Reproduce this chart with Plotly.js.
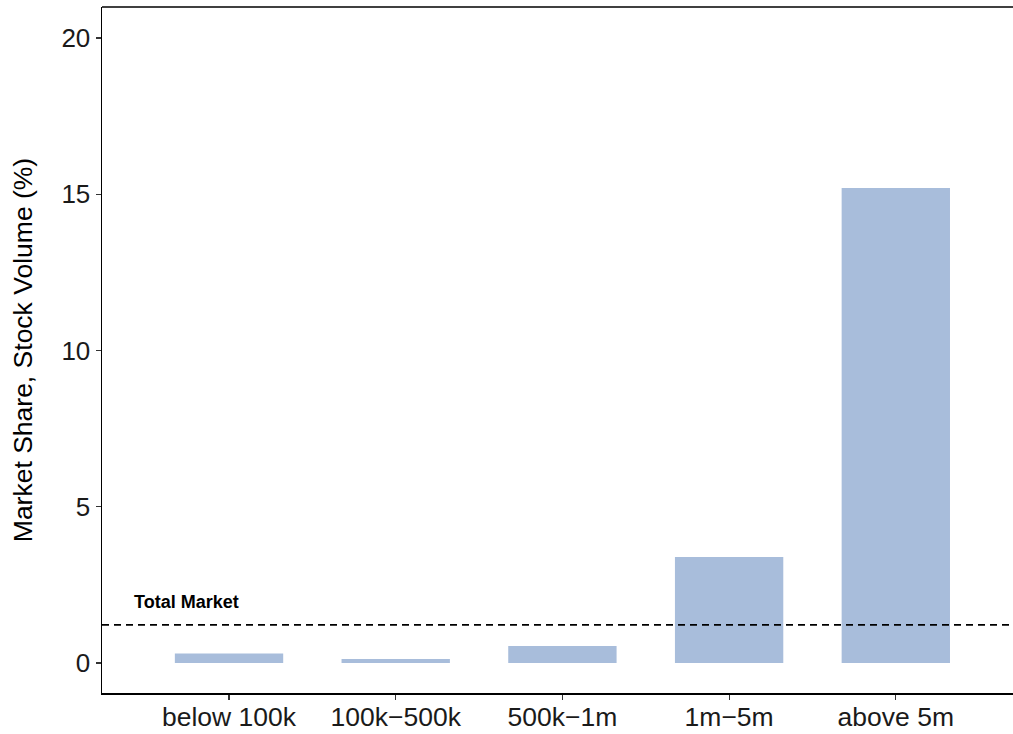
<!DOCTYPE html>
<html>
<head>
<meta charset="utf-8">
<script src="https://cdn.plot.ly/plotly-3.0.1.min.js"></script>
<style>html,body{margin:0;padding:0;background:#fff;}#chart{width:1013px;height:734px;}</style>
</head>
<body>
<div id="chart"></div>
<script>
const categories = ["below 100k", "100k\u2212500k", "500k\u22121m", "1m\u22125m", "above 5m"];
const shareValues = [0.30, 0.13, 0.54, 3.39, 15.2];
const totalMarket = 1.22;
const totalLabel = "Total Market";
const yTicks = [0, 5, 10, 15, 20];

const trace = {
  type: 'bar',
  x: categories,
  y: shareValues,
  marker: {color: '#a8bddb'},
  width: 0.65,
  hoverinfo: 'x+y'
};

const layout = {
  width: 1013, height: 734,
  margin: {l: 102, r: 0, t: 7, b: 41, pad: 0},
  paper_bgcolor: '#fff', plot_bgcolor: '#fff',
  font: {family: 'Liberation Sans, Arial, sans-serif', color: '#000'},
  showlegend: false,
  xaxis: {
    type: 'category',
    range: [-0.762, 4.703],
    showline: true, linecolor: '#000', linewidth: 1.5,
    ticks: 'outside', ticklen: 5, tickcolor: '#333', tickwidth: 1.2,
    tickfont: {size: 26.5, color: '#1a1a1a'},
    ticklabelstandoff: -5,
    showgrid: false, zeroline: false, mirror: false
  },
  yaxis: {
    range: [-0.96, 20.99],
    tickvals: yTicks,
    showline: true, linecolor: '#000', linewidth: 1.5,
    ticks: 'outside', ticklen: 5, tickcolor: '#333', tickwidth: 1.2,
    tickfont: {size: 26, color: '#1a1a1a'},
    ticklabelstandoff: 0,
    showgrid: false, zeroline: false,
    title: {text: 'Market Share, Stock Volume (%)', font: {size: 26.5, color: '#000'}, standoff: 21}
  },
  shapes: [
    {type: 'line', xref: 'paper', x0: 0, x1: 1, yref: 'y', y0: totalMarket, y1: totalMarket,
     line: {color: '#000', width: 1.6, dash: '7px,5px'}},
    {type: 'line', xref: 'paper', x0: 0, x1: 1, yref: 'paper', y0: 1, y1: 1,
     line: {color: '#000', width: 1.5}}
  ],
  annotations: [
    {x: -0.582, y: totalMarket + 0.73, xref: 'x', yref: 'y', text: '<b>' + totalLabel + '</b>',
     showarrow: false, xanchor: 'left', yanchor: 'middle',
     font: {size: 18, color: '#000', family: 'Liberation Sans, Arial, sans-serif'}}
  ]
};

Plotly.newPlot('chart', [trace], layout, {displayModeBar: false, staticPlot: true});
</script>
</body>
</html>
